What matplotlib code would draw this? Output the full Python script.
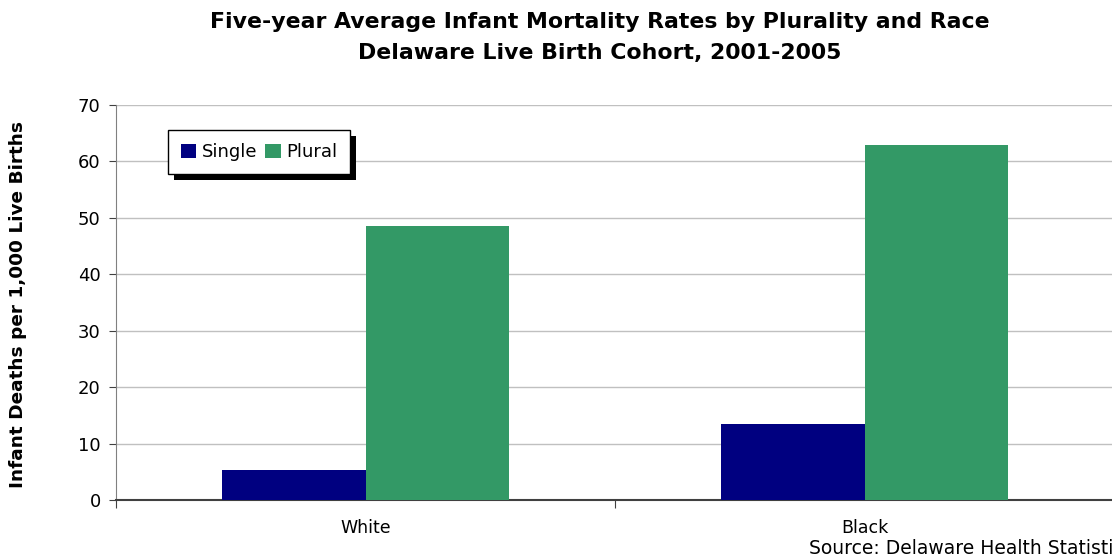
import matplotlib.pyplot as plt
import numpy as np
from matplotlib.patches import Rectangle
from matplotlib.transforms import IdentityTransform

plt.rcParams['font.family'] = ['DejaVu Sans']

races = ['White', 'Black']
single = [5.3, 13.5]
plural = [48.6, 62.9]

W, H = 1112, 558
fig = plt.figure(figsize=(W / 100, H / 100), dpi=100)
ax = fig.add_axes([116 / W, 58 / H, 998 / W, 395 / H])

x = np.arange(len(races))
w = 0.287
ax.bar(x - w / 2, single, w, color='#000080', label='Single', zorder=3)
ax.bar(x + w / 2, plural, w, color='#339966', label='Plural', zorder=3)

ax.set_xlim(-0.5, 1.5)
ax.set_ylim(0, 70)
ax.set_yticks(range(0, 71, 10))
ax.yaxis.grid(True, color='#c0c0c0', linewidth=1, zorder=0)
ax.set_xticks([-0.5, 0.5, 1.5])
ax.set_xticklabels([])
ax.set_xticks(x, minor=True)
ax.set_xticklabels(races, minor=True, fontsize=12.5)
ax.tick_params(axis='x', which='minor', length=0, pad=14)
ax.tick_params(axis='x', which='major', length=6, color='#404040', direction='out')
ax.tick_params(axis='y', length=5, color='#404040', labelsize=13, pad=6)

for s in ['top', 'right']:
    ax.spines[s].set_visible(False)
ax.spines['left'].set_color('#808080')
ax.spines['bottom'].set_color('#404040')
ax.spines['bottom'].set_linewidth(1.5)

fig.text(18 / W, 1 - 304 / H, 'Infant Deaths per 1,000 Live Births', rotation=90,
         ha='center', va='center', fontsize=13.3, fontweight='bold')

fig.text(600 / W, 1 - 22 / H, 'Five-year Average Infant Mortality Rates by Plurality and Race',
         ha='center', va='center', fontsize=15.8, fontweight='bold')
fig.text(600 / W, 1 - 53 / H, 'Delaware Live Birth Cohort, 2001-2005',
         ha='center', va='center', fontsize=15.8, fontweight='bold')

leg = ax.legend(loc='upper left', bbox_to_anchor=(52 / 998, 1 - 25 / 395), ncol=2,
                fontsize=13, frameon=True, fancybox=False, framealpha=1,
                handlelength=0.85, handleheight=0.85, handletextpad=0.3, columnspacing=0.45,
                borderpad=0.72, borderaxespad=0)
leg.get_frame().set_edgecolor('black')
leg.get_frame().set_linewidth(1)
leg.set_zorder(6)

# drop shadow under the legend box
fig.canvas.draw()
bb = leg.get_window_extent()
ax.add_patch(Rectangle((bb.x0 + 6, bb.y0 - 6), bb.width, bb.height, facecolor='black',
                       edgecolor='none', transform=IdentityTransform(), clip_on=False, zorder=5))

# source note runs off the right edge of the canvas
fig.text(809 / W, 1 - 549 / H, 'Source: Delaware Health Statistics Center', fontsize=13.5,
         ha='left', va='center')

fig.savefig('out.png', dpi=100)
